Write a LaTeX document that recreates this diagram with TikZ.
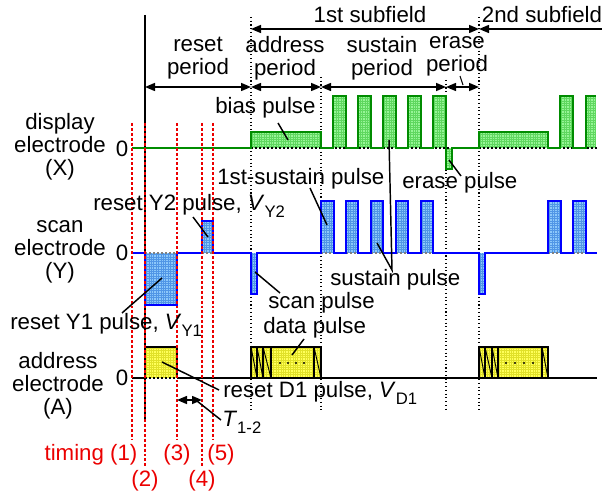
\documentclass[tikz,border=0pt]{standalone}
\usepackage{fontspec}
\setmainfont{Liberation Sans}
\usetikzlibrary{arrows.meta}
\definecolor{gline}{RGB}{0,140,0}
\definecolor{gfill}{RGB}{150,245,150}
\definecolor{ggrid}{RGB}{95,215,95}
\definecolor{bline}{RGB}{0,0,255}
\definecolor{bfill}{RGB}{140,200,250}
\definecolor{bgrid}{RGB}{80,150,230}
\definecolor{yfill}{RGB}{255,255,90}
\definecolor{ygrid}{RGB}{225,225,40}
\definecolor{tred}{RGB}{235,0,0}
\newcommand\lowidx[1]{\raisebox{-0.32em}{\fontsize{12.5}{13}\selectfont #1}}
\begin{document}
\begin{tikzpicture}[x=0.75pt,y=-0.75pt,
  txt/.style={font=\fontsize{16.7}{17.25}\selectfont, inner sep=0pt, align=center},
  redtxt/.style={txt, text=tred},
  leader/.style={line width=1.1pt, black},
  span/.style={line width=1.1pt, {Triangle[length=7.5pt,width=6pt]}-{Triangle[length=7.5pt,width=6pt]}},
  lspan/.style={line width=1.1pt, {Triangle[length=7.5pt,width=6pt]}-},
  tmark/.style={tred, line width=1.1pt, dash pattern=on 2.2pt off 1.5pt},
  bdot/.style={black, line width=0.8pt, dash pattern=on 0.8pt off 2pt},
  base/.style={black, line width=0.8pt, dash pattern=on 1.5pt off 1.5pt},
  gwave/.style={gline, line width=1.4pt, line join=miter},
  bwave/.style={bline, line width=1.4pt, line join=miter},
  awave/.style={black, line width=1.4pt},
  ghatch/.style={ggrid, line width=0.25pt, step=1.8pt},
  bhatch/.style={bgrid, line width=0.25pt, step=1.8pt},
  yhatch/.style={ygrid, line width=0.25pt, step=1.8pt},
]
\useasboundingbox (0,0) rectangle (613,495);

% ---------- period boundaries ----------
\draw[black, line width=1.4pt] (145,15) -- (145,420);
\draw[bdot] (251,17) -- (251,412);
\draw[bdot] (321,77) -- (321,412);
\draw[bdot] (446,80) -- (446,412);
\draw[bdot] (479,17) -- (479,412);

\coordinate (sfA) at (251,29);
\coordinate (sfB) at (479,29);
\coordinate (sfC) at (602,29);
\coordinate (pR) at (145,87);
\coordinate (pA) at (251,87);
\coordinate (pS) at (321,87);
\coordinate (pE) at (446,87);
\coordinate (pF) at (479,87);
\draw[span] (sfA) -- (sfB);
\draw[lspan] (sfB) -- (sfC);
\draw[span] (pR) -- (pA);
\draw[span] (pA) -- (pS);
\draw[span] (pS) -- (pE);
\draw[span] (pE) -- (pF);

\node[txt] (sub1) at (370,15) {1st subfield};
\node[txt] (sub2) at (542,15) {2nd subfield};
\node[txt] (perR) at (198,58) {reset\\period};
\node[txt] (perA) at (285,58) {address\\period};
\node[txt] (perS) at (382,58) {sustain\\period};
\node[txt] (perE) at (457,56) {erase\\period};
\coordinate (eL1) at (460,76);
\coordinate (eL2) at (463,85);
\draw[line width=0.8pt] (eL1) -- (eL2);

% ---------- electrode names ----------
\node[txt] (elX) at (60,147) {display\\electrode\\(X)};
\node[txt] (elY) at (60,252) {scan\\electrode\\(Y)};
\node[txt] (elA) at (58,386) {address\\electrode\\(A)};
\node[txt] (zX) at (122,149) {0};
\node[txt] (zY) at (122,253) {0};
\node[txt] (zA) at (122,378) {0};

% ---------- display electrode (X) ----------
\foreach \a/\t/\b/\u in {251/132/321/148, 479/132/548/148, 446/148/452/169,
    333/96/346/148, 358/96/371/148, 383/96/396/148, 408/96/421/148,
    433/96/446/148, 560/96/573/148, 586/96/596/148}{
  \fill[gfill] (\a,\t) rectangle (\b,\u);
  \draw[ghatch] (\a,\t) grid (\b,\u);
}
\draw[base] (251,148) -- (597,148);
\draw[gwave] (132,148) -- (251,148) -- (251,132) -- (321,132) -- (321,148)
  -- (333,148) -- (333,96) -- (346,96) -- (346,148)
  -- (358,148) -- (358,96) -- (371,96) -- (371,148)
  -- (383,148) -- (383,96) -- (396,96) -- (396,148)
  -- (408,148) -- (408,96) -- (421,96) -- (421,148)
  -- (433,148) -- (433,96) -- (446,96) -- (446,169) -- (452,169) -- (452,148)
  -- (479,148) -- (479,132) -- (548,132) -- (548,148)
  -- (560,148) -- (560,96) -- (573,96) -- (573,148)
  -- (586,148) -- (586,96) -- (596,96);

% ---------- scan electrode (Y) ----------
\foreach \a/\t/\b/\u in {145/253/177/305, 202/221/213/253, 251/253/257/294,
    479/253/485/294, 321/201/334/253, 346/201/358/253, 371/201/383/253,
    396/201/408/253, 421/201/433/253, 548/201/561/253, 573/201/586/253}{
  \fill[bfill] (\a,\t) rectangle (\b,\u);
  \draw[bhatch] (\a,\t) grid (\b,\u);
}
\draw[base, gray] (145,253) -- (177,253);
\draw[base, gray] (202,253) -- (213,253);
\foreach \a/\b in {321/334,346/358,371/383,396/408,421/433,548/561,573/586}
  \draw[base, gray] (\a,253) -- (\b,253);
\draw[bwave] (132,253) -- (145,253) -- (145,305) -- (177,305) -- (177,253)
  -- (202,253) -- (202,221) -- (213,221) -- (213,253)
  -- (251,253) -- (251,294) -- (257,294) -- (257,253)
  -- (321,253) -- (321,201) -- (334,201) -- (334,253)
  -- (346,253) -- (346,201) -- (358,201) -- (358,253)
  -- (371,253) -- (371,201) -- (383,201) -- (383,253)
  -- (396,253) -- (396,201) -- (408,201) -- (408,253)
  -- (421,253) -- (421,201) -- (433,201) -- (433,253)
  -- (479,253) -- (479,294) -- (485,294) -- (485,253)
  -- (548,253) -- (548,201) -- (561,201) -- (561,253)
  -- (573,253) -- (573,201) -- (586,201) -- (586,253) -- (597,253);

% ---------- address electrode (A) ----------
\foreach \a/\b in {145/177, 251/321, 479/548}{
  \fill[yfill] (\a,347) rectangle (\b,378);
  \draw[yhatch] (\a,347) grid (\b,378);
}
\draw[awave] (132,378) -- (145,378);
\draw[awave] (177,378) -- (597,378);
\draw[base] (145,378) -- (177,378);
\draw[awave] (145,378) -- (145,347) -- (177,347) -- (177,378);
% data pulses: narrow bits with diagonals, then a wide block
\draw[line width=1.1pt] (251,347) rectangle (321,378);
\foreach \x in {257,263,271,314} \draw[line width=1.1pt] (\x,347) -- (\x,378);
\foreach \a/\b in {251/257,257/263,263/271,314/321} \draw[line width=0.7pt] (\a,347) -- (\b,378);
\draw[line width=1.1pt] (479,347) rectangle (548,378);
\foreach \x in {485,492,498,542} \draw[line width=1.1pt] (\x,347) -- (\x,378);
\foreach \a/\b in {479/485,485/492,492/498,542/548} \draw[line width=0.7pt] (\a,347) -- (\b,378);
\foreach \x in {280,288,296,304} \fill (\x,363) circle (1.2);
\foreach \x in {506,515,524,533} \fill (\x,363) circle (1.2);

% ---------- timing markers ----------
\draw[tmark] (132,123) -- (132,440);
\draw[tmark] (145,123) -- (145,467);
\draw[tmark] (177,123) -- (177,440);
\draw[tmark] (202,123) -- (202,467);
\draw[tmark] (213,123) -- (213,440);
\node[redtxt] (tm1) at (91,455) {timing (1)};
\node[redtxt] (tm2) at (145,481) {(2)};
\node[redtxt] (tm3) at (177,455) {(3)};
\node[redtxt] (tm4) at (202,481) {(4)};
\node[redtxt] (tm5) at (221,455) {(5)};

\coordinate (tA) at (177,400);
\coordinate (tB) at (202,400);
\draw[span] (tA) -- (tB);

% ---------- pulse labels and leaders ----------
\node[txt, anchor=west] (lbias) at (215,108) {bias pulse};
\coordinate (cb1) at (278,123); \coordinate (cb2) at (288,140);
\draw[leader] (cb1) -- (cb2);

\node[txt, anchor=west] (l1st) at (217,179) {1st-sustain pulse};
\coordinate (cf1) at (310,188); \coordinate (cf2) at (327,225);
\draw[leader] (cf1) -- (cf2);

\node[txt, anchor=west] (lerase) at (402,183) {erase pulse};
\coordinate (ce1) at (449,160); \coordinate (ce2) at (461,176);
\draw[leader] (ce1) -- (ce2);

\node[txt, anchor=west] (lry2) at (93,206) {reset Y2 pulse, \textit{V}\lowidx{Y2}};
\coordinate (cy1) at (193,217); \coordinate (cy2) at (208,237);
\draw[leader] (cy1) -- (cy2);

\node[txt, anchor=west] (lsus) at (330,280) {sustain pulse};
\coordinate (cs0) at (392,270); \coordinate (csx) at (389,140); \coordinate (csy) at (377,243);
\draw[leader] (csx) -- (cs0) -- (csy);

\node[txt, anchor=west] (lscan) at (268,303) {scan pulse};
\coordinate (cc1) at (255,272); \coordinate (cc2) at (280,293);
\draw[leader] (cc1) -- (cc2);

\node[txt, anchor=west] (ldata) at (263,328) {data pulse};
\coordinate (cd1) at (304,339); \coordinate (cd2) at (292,355);
\draw[leader] (cd1) -- (cd2);

\node[txt, anchor=west] (lry1) at (10,325) {reset Y1 pulse, \textit{V}\lowidx{Y1}};
\coordinate (cr1) at (122,313); \coordinate (cr2) at (162,278);
\draw[leader] (cr1) -- (cr2);

\node[txt, anchor=west] (lrd1) at (223,393) {reset D1 pulse, \textit{V}\lowidx{D1}};
\coordinate (cq1) at (162,362); \coordinate (cq2) at (219,390);
\draw[leader] (cq1) -- (cq2);

\node[txt, anchor=west] (lT) at (222,422) {\textit{T}\lowidx{1-2}};
\coordinate (ct1) at (197,401); \coordinate (ct2) at (221,420);
\draw[leader] (ct1) -- (ct2);
\end{tikzpicture}
\end{document}
